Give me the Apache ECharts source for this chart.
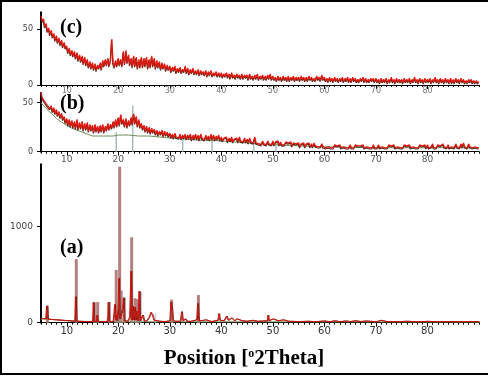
<!DOCTYPE html>
<html><head><meta charset="utf-8">
<script src="https://cdn.jsdelivr.net/npm/echarts@6/dist/echarts.min.js"></script>
<style>
html,body{margin:0;padding:0;background:#fff}
#chart{position:absolute;left:0;top:0;width:488px;height:376px}
#frame{position:absolute;left:0;top:0;width:488px;height:375px;box-sizing:border-box;border-left:2px solid #000;border-top:2px solid #000;border-bottom:2px solid #000;pointer-events:none}
</style></head>
<body><div id="chart"></div><div id="frame"></div>
<script>
// ---------- data ----------
const xTicks = [10, 20, 30, 40, 50, 60, 70, 80];
const yTicksTop = [0, 50];
const yTicksA = [0, 1000];
const startDeg = 5, stepDeg = 0.25;   // sampling of patterns (b) and (c)

// pattern (c): counts every 0.25 deg from 5 to 90
const patternC = [
 62,57,59,52,55,48,51,45,49,43,46,40,44,38,42,36,40,34,38,33,
 35,29,33,27,31,26,30,24,29,22,27,21,26,19,25,18,23,16,21,15,
 20,14,19,13,18,15,20,14,22,17,23,18,24,17,22,41,20,16,22,17,
 24,18,23,17,30,19,31,20,27,18,24,16,26,17,25,15,23,16,25,16,
 24,17,25,15,23,16,26,17,24,15,22,16,21,14,20,15,19,13,18,14,
 17,12,16,13,17,11,15,12,16,11,14,12,17,11,15,10,14,11,15,10,
 13,10,14,9,13,10,12,9,13,8,12,9,13,8,11,9,12,8,11,8,
 11,7,10,8,11,7,10,6,11,7,9,6,10,7,9,6,10,6,9,7,
 9,5,10,6,8,5,9,6,10,5,8,6,9,5,8,5,9,6,10,5,
 8,5,7,4,8,5,7,4,8,5,7,4,8,4,7,5,8,4,7,5,
 7,4,8,5,7,4,7,4,8,5,7,4,6,4,8,5,7,4,9,5,
 7,4,6,3,7,4,6,3,7,4,6,3,6,4,7,3,6,4,7,3,
 6,3,7,4,6,3,5,3,6,4,7,3,6,3,5,3,6,4,6,3,
 6,3,5,2,6,3,5,3,6,2,5,3,7,3,5,2,6,3,5,3,
 5,2,6,3,5,3,6,2,5,3,7,3,5,2,6,3,5,2,6,3,
 5,3,6,2,5,3,7,3,5,2,6,3,5,2,6,3,5,2,6,2,
 5,2,6,3,5,2,6,3,5,2,4,2,5,3,5,2,4,2,4,2,
 3];

// pattern (b): counts every 0.25 deg from 5 to 90
const patternB = [
 61,55,57,51,53,47,49,44,47,41,45,39,43,37,41,35,39,33,36,30,
 34,27,33,26,32,25,31,24,33,23,30,24,31,22,29,23,30,21,28,22,
 27,20,28,21,26,20,27,21,28,20,26,22,29,23,28,24,31,25,33,26,
 35,27,38,29,33,26,34,25,32,27,35,28,39,29,36,26,33,25,29,23,
 27,21,26,20,25,19,24,20,23,18,22,17,21,18,22,16,21,17,20,16,
 19,15,18,14,19,15,17,14,18,13,17,14,18,13,17,14,18,12,17,13,
 18,13,17,12,18,14,16,12,17,13,16,12,18,13,17,12,16,13,17,12,
 15,11,14,12,15,10,14,11,15,10,13,11,14,10,15,11,13,10,14,10,
 13,9,14,10,12,9,15,9,11,8,10,7,11,8,10,7,11,8,10,7,
 11,7,10,8,11,7,10,7,9,7,10,8,9,7,10,6,9,7,8,6,
 9,5,8,6,9,5,8,6,9,5,8,5,9,6,8,5,7,5,8,5,
 7,4,6,5,7,4,6,4,7,5,6,4,7,4,6,5,7,4,6,4,
 7,4,6,4,7,5,6,4,6,4,7,4,6,5,7,4,6,4,7,4,
 6,4,7,4,6,5,7,4,6,4,7,5,6,4,7,4,6,5,7,4,
 6,4,7,5,6,4,7,4,6,5,7,4,6,4,7,5,6,4,7,4,
 7,4,6,5,8,4,6,4,7,5,6,4,8,5,6,4,7,4,6,5,
 7,4,8,5,7,4,8,5,9,5,7,4,8,5,7,4,6,5,7,4,
 4];

// background of (b): [2theta, counts]
const backgroundB = [[5,50],[6,44],[7,39],[8,34],[9,30],[10,27],[11,24],[12,22],[13,20],[14,18],[15,16],[17,16],[19,16],[20,17],[22,17],[24,16],[26,16],[28,15],[30,14],[35,12],[40,11],[45,9],[50,7],[55,6],[60,5],[70,4],[80,4],[90,4]];
// reference lines of (b): [2theta, height]
const refLinesB = [[19.6,20],[22.8,47],[32.5,12],[38.2,12],[46.3,12],[50.6,8]];

// pattern (a): [2theta, counts]
const patternA = [[5,45],[5.5,42],[5.9,40],[6.1,175],[6.3,38],[7,34],[8,30],[9,26],[10,22],[11,18],[11.55,16],[11.7,271],[11.85,15],[13,13],[14,12],[15.0,12],[15.15,212],[15.3,12],[15.7,12],[15.85,80],[16.0,12],[17,11],[17.8,12],[17.95,60],[18.05,212],[18.2,12],[19.0,14],[19.3,190],[19.45,30],[19.6,80],[19.75,20],[19.95,150],[20.1,462],[20.25,40],[20.4,60],[20.55,20],[20.85,150],[21.0,260],[21.15,20],[21.8,15],[22.2,60],[22.45,538],[22.6,30],[22.8,170],[22.95,30],[23.2,160],[23.35,30],[23.6,120],[23.8,20],[24.05,330],[24.2,20],[24.5,40],[24.75,80],[25.0,15],[25.5,20],[26.0,60],[26.3,108],[26.6,80],[26.9,25],[27.5,20],[28,15],[29,12],[30.0,20],[30.2,215],[30.4,150],[30.6,20],[31,15],[32.0,15],[32.3,115],[32.5,20],[33,40],[33.3,15],[34,14],[35.2,30],[35.4,200],[35.6,20],[36.5,25],[37,30],[38,12],[39.3,25],[39.5,95],[39.7,25],[40.5,20],[41,70],[41.3,25],[42,50],[42.5,20],[43,40],[44,20],[45,15],[46,25],[47,15],[48,18],[48.9,20],[49.05,80],[49.2,20],[50,40],[51,20],[52,30],[53,15],[55,12],[57,15],[58,10],[60,18],[61,10],[62,20],[63,10],[64,18],[65,12],[66,20],[67,12],[68,18],[70,10],[71,25],[72,12],[74,10],[76,15],[78,10],[80,14],[82,10],[84,12],[86,10],[88,12],[90,10]];
// reference sticks of (a): [2theta, height]
const sticksA = [[6.1,177],[11.7,663],[15.2,212],[15.85,215],[18.1,215],[19.45,549],[20.12,1625],[20.4,335],[21.0,260],[22.45,890],[23.1,255],[23.45,245],[24.05,320],[30.2,240],[35.4,288]];
const greyStickA = [[27.2,100]];
const backgroundA = [[5,40],[8,30],[10,20],[14,12],[20,10],[50,10],[90,8]];

// ---------- chart ----------
const toPairs = arr => arr.map((v, i) => [startDeg + i * stepDeg, v]);
const chart = echarts.init(document.getElementById('chart'), null, {renderer: 'canvas'});

const panelGrids = [
  {left: 41, right: 9, top: 12.2, height: 72.8},
  {left: 41, right: 9, top: 92.9, height: 58.8},
  {left: 41, right: 9, top: 164.3, height: 158.4}
];
// overlay grids (same geometry) carry the 1-degree minor ticks
const grids = panelGrids.concat(panelGrids.map(g => Object.assign({}, g)));
const lblFont = 'DejaVu Sans, Arial, sans-serif';
const xLab = [{size: 8, margin: 2, color: '#777'}, {size: 9, margin: 3, color: '#555'}, {size: 10, margin: 4, color: '#333'}];
const xAxes = [], yAxes = [];
const yMax = [65, 60, 1650], yTicks = [yTicksTop, yTicksTop, yTicksA], ySize = [8, 8, 9];
panelGrids.forEach((g, i) => {
  xAxes.push({
    gridIndex: i, type: 'value', min: 5, max: 90, position: 'bottom',
    axisLine: {show: true, onZero: false, lineStyle: {color: '#000', width: 1}},
    axisTick: {show: true, customValues: xTicks, length: 4, lineStyle: {color: '#000'}},
    axisLabel: {show: true, customValues: xTicks, fontSize: xLab[i].size, margin: xLab[i].margin, color: xLab[i].color, fontFamily: lblFont},
    splitLine: {show: false}
  });
  yAxes.push({
    gridIndex: i, type: 'value', min: 0, max: yMax[i],
    axisLine: {show: true, lineStyle: {color: '#000', width: 2}},
    axisTick: {show: true, customValues: yTicks[i], length: 4, lineStyle: {color: '#000'}},
    axisLabel: {show: true, customValues: yTicks[i], fontSize: ySize[i], margin: 8, color: '#444', fontFamily: lblFont, formatter: v => String(v)},
    splitLine: {show: false}
  });
});
panelGrids.forEach((g, i) => {
  xAxes.push({
    gridIndex: i + 3, type: 'value', min: 5, max: 90, interval: 1, position: 'bottom',
    axisLine: {show: false, onZero: false},
    axisTick: {show: true, length: 2, lineStyle: {color: '#000'}},
    axisLabel: {show: false}, splitLine: {show: false}
  });
  yAxes.push({gridIndex: i + 3, type: 'value', min: 0, max: yMax[i], show: false});
});

const redStyle = {color: '#e3170d', width: 1.2, shadowColor: 'rgba(70,20,10,0.9)', shadowOffsetY: 1.2, shadowOffsetX: -0.4, shadowBlur: 0};

const panelLabel = (txt, left, top) => ({
  text: txt, left: left, top: top,
  textStyle: {fontFamily: 'Liberation Serif, Times New Roman, serif', fontWeight: 'bold', fontSize: 20, color: '#000'}
});

chart.setOption({
  animation: false,
  backgroundColor: '#fff',
  grid: grids,
  xAxis: xAxes,
  yAxis: yAxes,
  title: [
    panelLabel('(c)', 55, 13),
    panelLabel('(b)', 55, 89),
    panelLabel('(a)', 55, 233),
    {
      text: '{m|Position [}{s|o}{m|2Theta]}', left: 'center', top: 343,
      textStyle: {rich: {
        m: {fontFamily: 'Liberation Serif, Times New Roman, serif', fontWeight: 'bold', fontSize: 21, color: '#000'},
        s: {fontFamily: 'Liberation Serif, Times New Roman, serif', fontWeight: 'bold', fontSize: 12, color: '#000', verticalAlign: 'top', padding: [0, 0, 8, 0]}
      }}
    }
  ],
  series: [
    {type: 'line', xAxisIndex: 0, yAxisIndex: 0, data: toPairs(patternC), symbol: 'none', lineStyle: redStyle, z: 5},

    {type: 'bar', xAxisIndex: 1, yAxisIndex: 1, data: refLinesB, barWidth: 1.5, barGap: '-100%', itemStyle: {color: '#a9bcbc'}, z: 2},
    {type: 'line', xAxisIndex: 1, yAxisIndex: 1, data: backgroundB, symbol: 'none', lineStyle: {color: '#6f8f5a', width: 1}, z: 3},
    {type: 'line', xAxisIndex: 1, yAxisIndex: 1, data: toPairs(patternB), symbol: 'none', lineStyle: redStyle, z: 5},

    {type: 'bar', xAxisIndex: 2, yAxisIndex: 2, data: sticksA, barWidth: 3, barGap: '-100%', itemStyle: {color: '#b47f7f'}, z: 2},
    {type: 'bar', xAxisIndex: 2, yAxisIndex: 2, data: greyStickA, barWidth: 1.5, barGap: '-100%', itemStyle: {color: '#cfcfcf'}, z: 2},
    {type: 'line', xAxisIndex: 2, yAxisIndex: 2, data: backgroundA, symbol: 'none', lineStyle: {color: '#8a9a6a', width: 1}, z: 3},
    {type: 'line', xAxisIndex: 2, yAxisIndex: 2, data: patternA, symbol: 'none', lineStyle: {color: '#d0140c', width: 1, shadowColor: 'rgba(90,20,10,0.8)', shadowOffsetX: 0.8, shadowBlur: 0}, z: 5}
  ]
});
</script>
</body></html>
